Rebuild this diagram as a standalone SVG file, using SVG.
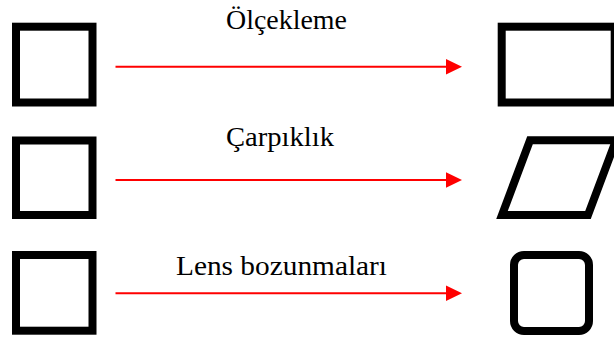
<svg xmlns="http://www.w3.org/2000/svg" width="614" height="338" viewBox="0 0 614 338">
  <style>
    .shape { fill: none; stroke: #000; stroke-width: 8; stroke-linejoin: miter; }
    .conn { stroke: #ff0000; stroke-width: 2; fill: none; marker-end: url(#head); }
    .label { font-family: "Liberation Serif", "Times New Roman", serif; font-size: 27px; fill: #000; }
  </style>
  <defs>
    <marker id="head" markerUnits="userSpaceOnUse" markerWidth="16" markerHeight="16" viewBox="0 0 16 16" refX="1" refY="8" orient="auto">
      <path d="M0,0.3 L16,8 L0,15.7 Z" fill="#ff0000"/>
    </marker>
  </defs>
  <rect width="614" height="338" fill="#fff"/>

  <g id="src1"><rect class="shape" x="16" y="26.7" width="76.5" height="75.8"/></g>
  <g id="src2"><rect class="shape" x="16" y="140.5" width="76.5" height="74.5"/></g>
  <g id="src3"><rect class="shape" x="16" y="255" width="76.5" height="75.7"/></g>

  <g id="dst1"><rect class="shape" x="501.7" y="26.7" width="113" height="75.8"/></g>
  <g id="dst2"><path class="shape" d="M530,140.3 L616,140.3 L588,215 L502,215 Z"/></g>
  <g id="dst3"><rect class="shape" x="514" y="255" width="75" height="76" rx="10" ry="10"/></g>

  <g id="connectors">
    <line class="conn" x1="115.5" y1="66.7" x2="447" y2="66.7"/>
    <line class="conn" x1="115.5" y1="180" x2="447" y2="180"/>
    <line class="conn" x1="115.5" y1="293.3" x2="447" y2="293.3"/>
  </g>

  <g id="labels">
    <text class="label" x="226" y="28.5" textLength="121" lengthAdjust="spacingAndGlyphs">Ölçekleme</text>
    <text class="label" x="226" y="146" textLength="108" lengthAdjust="spacingAndGlyphs">Çarpıklık</text>
    <text class="label" x="176" y="275" textLength="211" lengthAdjust="spacingAndGlyphs">Lens bozunmaları</text>
  </g>
</svg>
